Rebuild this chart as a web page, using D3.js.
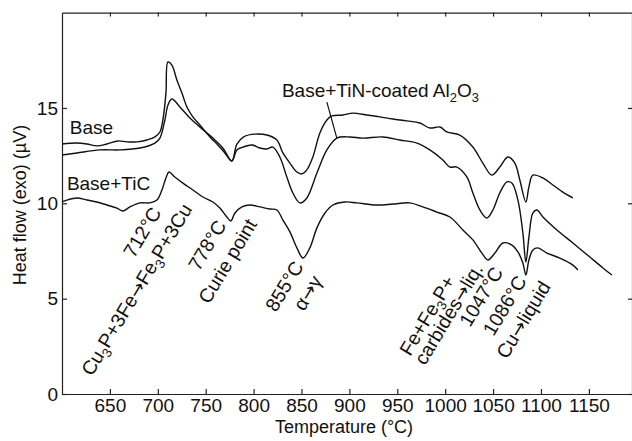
<!DOCTYPE html>
<html><head><meta charset="utf-8">
<script src="https://cdn.jsdelivr.net/npm/d3@7/dist/d3.min.js"></script>
<style>
body{margin:0;background:#fff;}
svg{display:block;font-family:"Liberation Sans",Arial,Helvetica,sans-serif;}
</style></head><body>
<svg id="chart" width="632" height="441"></svg>
<script>
// ---- data (temperature °C, heat flow µV) ----
const baseTemp = [600,615.6,626,636.4,646.9,658.3,667.7,678.2,688.6,697,702.2,705.3,708.5,710.6,714.7,719.9,725.2,730.4,736.6,743.9,754.4,762.7,770,777.3,782.6,790,801.4,813.9,824.3,830.6,837.9,845.2,850.4,855.6,861.9,869.2,876.5,881.8,893.2,903.7,918.3,931.9,945.4,960,973.6,984,994.5,1001.8,1015.3,1028.9,1039.3,1048.7,1057,1065.4,1072.7,1077.9,1084.2,1087.4,1091.5,1101.9,1112.4,1122.8,1133.3];
const baseFlow = [13.11,13.16,13.11,13.01,13.11,13.27,13.22,13.22,13.32,13.48,13.74,14.37,15.78,17.41,17.25,16.47,15.78,15.05,14.53,14.11,13.48,13.06,12.64,12.22,13.1,13.5,13.63,13.58,13.32,12.64,12.11,11.64,11.54,11.75,12.43,13.69,14.37,14.58,14.63,14.73,14.63,14.53,14.42,14.32,14.21,13.95,14.0,13.74,13.58,12.95,12.11,11.48,11.9,12.43,12.11,11.22,10.07,10.86,11.48,11.33,10.96,10.59,10.28];

const tinTemp = [600,615.6,639.6,660.4,681.3,697,702.2,707.4,710.6,714.7,723.1,733.5,743.9,757.5,767.9,777.3,782.6,788.9,798.2,806.6,813.9,820.1,827.4,834.7,841,848.3,855.6,866.1,876.5,886.9,900.5,914.1,935,952.7,970.5,984,997.6,1004.9,1012.2,1022.6,1028.9,1036.2,1043.5,1049.8,1057,1064.4,1069.6,1075.9,1081.1,1084.2,1087.4,1091.5,1095.7,1102,1116.6,1133.3,1151,1164.6,1174];
const tinFlow = [12.53,12.64,12.8,12.8,12.9,13.16,13.42,14.37,15.15,15.47,15.05,14.47,14.0,13.42,12.9,12.22,12.8,12.95,13.06,12.9,12.85,12.95,12.43,11.38,10.54,10.02,10.28,11.59,12.8,13.42,13.48,13.42,13.48,13.32,13.16,12.8,12.27,11.9,11.9,11.38,10.54,9.65,9.23,9.65,10.54,11.12,11.06,10.17,8.44,6.92,8.23,9.49,9.65,9.28,8.6,7.92,7.18,6.61,6.24];

const ticTemp = [600,605.1,615.6,626,636.4,646.9,657.3,663.6,670.9,681.3,691.7,699.1,704.3,708.5,711.6,717.8,726.2,736.6,747.1,757.5,764.8,772.1,776.3,780.5,787.8,796.1,806.6,817,824.3,830.6,837.9,845.2,851.5,858.7,866.1,874.5,882.8,895.4,907.8,928.7,945.4,963.1,976.7,991.3,1004.9,1018.5,1028.9,1038.3,1044.6,1051.9,1060.2,1069.6,1075.9,1081.1,1084.2,1087.4,1091.5,1096.7,1106.1,1119.7,1133.3,1138.5];
const ticFlow = [10.07,10.17,10.28,10.17,10.07,9.91,9.75,9.6,9.81,10.02,10.02,10.17,10.7,11.33,11.64,11.38,11.06,10.7,10.33,10.07,9.75,9.28,9.07,9.49,9.81,9.91,9.81,9.7,9.65,9.12,8.5,7.66,7.13,7.66,8.71,9.49,9.91,10.07,10.02,9.91,9.96,10.02,9.81,9.54,9.28,8.6,8.08,7.39,7.03,7.39,7.92,7.81,7.45,6.87,6.24,7.03,7.55,7.66,7.39,7.13,6.76,6.5];

const xTicks = [650,700,750,800,850,900,950,1000,1050,1100,1150];
const yTicks = [0,5,10,15];
const xTitle = "Temperature (°C)";
const yTitle = "Heat flow (exo) (µV)";

// series labels
const seriesLabels = ["Base", "Base+TiC", "Base+TiN-coated Al_2O_3"];
const seriesLabelTemp = [608.2, 605.1, 829.6];
const seriesLabelFlow = [13.63, 10.70, 15.57];
// leader line for TiN label
const leaderTemp = [876.5, 886.9];
const leaderFlow = [15.31, 13.42];

// rotated annotations (baseline start)
const annotText = ["712°C","Cu_3P+3Fe→Fe_3P+3Cu","778°C","Curie point","855°C","α→γ","Fe+Fe_3P+","carbides→liq.","1047°C","1086°C","Cu→liquid"];
const annotTemp = [675.1,631.2,742.9,753.5,823.5,852.5,963.5,979,1026,1050.5,1064.5];
const annotFlow = [7.08,0.89,6.40,4.67,4.25,4.30,1.94,1.45,3.46,2.99,1.78];

// ---- drawing ----
const svg = d3.select("#chart");
const x = d3.scaleLinear().domain([600,1195]).range([62,632]);
const y = d3.scaleLinear().domain([0,20]).range([394,12.6]);
const FS = 19;
const AFS = 19.5;

function rich(sel, str, fs){
  const parts = str.split(/(_\d|→)/).filter(s=>s.length);
  let shifted=false;
  parts.forEach(p=>{
    let t;
    if(p[0]==='_'){
      t=sel.append("tspan").attr("dy",fs*0.25).attr("font-size",fs*0.68).text(p.slice(1));
      shifted=true;
      return;
    } else if(p==='→'){
      t=sel.append("tspan").attr("font-family","DejaVu Sans").attr("font-size",fs*0.95).text(p);
    } else {
      t=sel.append("tspan").text(p);
    }
    if(shifted){t.attr("dy",-fs*0.25);shifted=false;}
  });
}

// axes
const gx = svg.append("g").attr("transform","translate(0,394)")
  .call(d3.axisBottom(x).tickValues(xTicks).tickSize(-5).tickSizeOuter(0).tickPadding(5).tickFormat(d3.format("d")));
const gy = svg.append("g").attr("transform","translate(62,0)")
  .call(d3.axisLeft(y).tickValues(yTicks).tickSize(-5).tickSizeOuter(0).tickPadding(4).tickFormat(d3.format("d")));
const gt = svg.append("g").attr("transform","translate(0,12.6)")
  .call(d3.axisTop(x).tickValues(xTicks).tickSize(-4).tickSizeOuter(0).tickFormat(""));
const gr = svg.append("g").attr("transform","translate(632,0)")
  .call(d3.axisRight(y).tickValues(yTicks).tickSize(-4).tickSizeOuter(0).tickFormat(""));
[gx,gy,gt,gr].forEach(g=>{
  g.select(".domain").attr("stroke","#222").attr("stroke-width",1.2);
  g.selectAll(".tick line").attr("stroke","#222").attr("stroke-width",1.2);
  g.selectAll(".tick text").attr("font-size",FS).attr("font-family","Liberation Sans, Arial, sans-serif").attr("fill","#111");
});

// axis titles
svg.append("text").attr("x",344).attr("y",433).attr("text-anchor","middle")
  .attr("font-size",18).attr("fill","#111").text(xTitle);
svg.append("text").attr("transform","translate(26,205) rotate(-90)").attr("text-anchor","middle")
  .attr("font-size",18).attr("fill","#111").text(yTitle);

// curves
const line = d3.line().x(d=>x(d[0])).y(d=>y(d[1])).curve(d3.curveCatmullRom.alpha(0.5));
const series = [[baseTemp,baseFlow],[tinTemp,tinFlow],[ticTemp,ticFlow]];
series.forEach(([t,f])=>{
  svg.append("path").datum(t.map((v,i)=>[v,f[i]]))
    .attr("d",line).attr("fill","none").attr("stroke","#111").attr("stroke-width",1.4);
});

// series labels
seriesLabels.forEach((s,i)=>{
  const t=svg.append("text").attr("x",x(seriesLabelTemp[i])).attr("y",y(seriesLabelFlow[i]))
    .attr("font-size",FS).attr("fill","#111");
  rich(t,s,FS);
});
svg.append("line").attr("x1",x(leaderTemp[0])).attr("y1",y(leaderFlow[0]))
  .attr("x2",x(leaderTemp[1])).attr("y2",y(leaderFlow[1])).attr("stroke","#111").attr("stroke-width",1.2);

// rotated annotations
annotText.forEach((s,i)=>{
  const t=svg.append("text")
    .attr("transform",`translate(${x(annotTemp[i])},${y(annotFlow[i])}) rotate(-59)`)
    .attr("font-size",AFS).attr("fill","#111");
  rich(t,s,AFS);
});
</script>
</body></html>
